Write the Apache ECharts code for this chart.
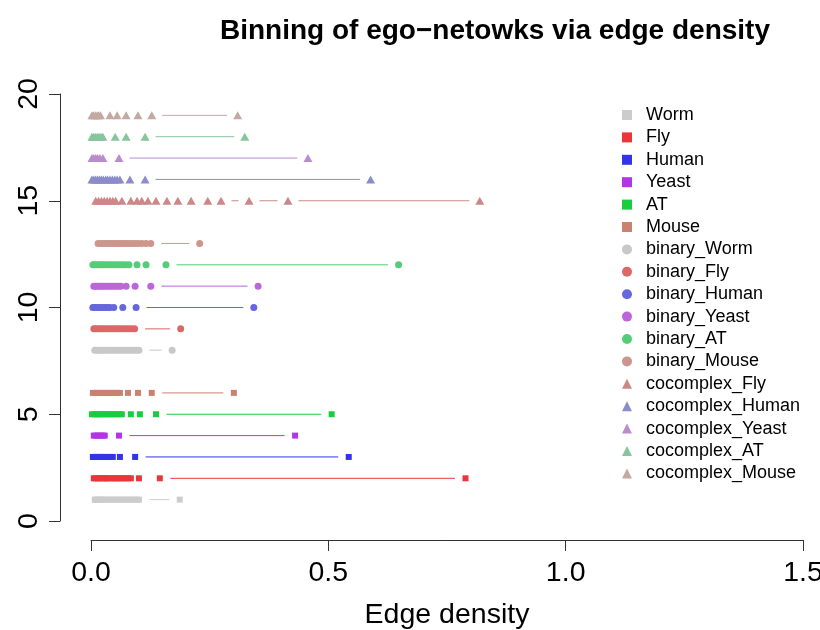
<!DOCTYPE html>
<html><head><meta charset="utf-8">
<script src="https://cdn.jsdelivr.net/npm/echarts@6/dist/echarts.min.js"></script>
<style>html,body{margin:0;padding:0;background:#fff}#c{width:820px;height:630px}</style>
</head><body><div id="c"></div>
<script>
// ---- data ----
const seriesNames = ["Worm","Fly","Human","Yeast","AT","Mouse",
  "binary_Worm","binary_Fly","binary_Human","binary_Yeast","binary_AT","binary_Mouse",
  "cocomplex_Fly","cocomplex_Human","cocomplex_Yeast","cocomplex_AT","cocomplex_Mouse"];
const rowPositions = [1,2,3,4,5,6, 8,9,10,11,12,13, 15,16,17,18,19];

const worm   = [0.008,0.011,0.015,0.019,0.022,0.027,0.031,0.038,0.043,0.049,0.054,0.061,0.066,0.072,0.079,0.084,0.090,0.097,0.101,0.187];
const fly    = [0.006,0.010,0.015,0.019,0.025,0.030,0.034,0.040,0.046,0.051,0.055,0.061,0.067,0.072,0.078,0.084,0.101,0.145,0.789];
const human  = [0.004,0.008,0.012,0.017,0.021,0.026,0.030,0.035,0.041,0.046,0.061,0.093,0.543];
const yeast  = [0.006,0.011,0.015,0.020,0.025,0.029,0.059,0.430];
const at     = [0.002,0.007,0.012,0.016,0.021,0.027,0.032,0.037,0.043,0.048,0.054,0.060,0.065,0.084,0.103,0.137,0.507];
const mouse  = [0.004,0.009,0.013,0.018,0.024,0.029,0.034,0.040,0.045,0.050,0.056,0.061,0.078,0.099,0.128,0.301];

const binaryWorm  = [0.008,0.013,0.017,0.022,0.027,0.032,0.037,0.042,0.048,0.053,0.058,0.064,0.069,0.075,0.080,0.086,0.091,0.096,0.101,0.171];
const binaryFly   = [0.006,0.010,0.014,0.019,0.023,0.028,0.033,0.038,0.043,0.048,0.053,0.058,0.063,0.069,0.075,0.080,0.086,0.092,0.189];
const binaryHuman = [0.004,0.008,0.012,0.016,0.021,0.025,0.030,0.035,0.040,0.048,0.067,0.095,0.343];
const binaryYeast = [0.006,0.010,0.014,0.018,0.023,0.027,0.032,0.037,0.042,0.047,0.053,0.058,0.063,0.074,0.093,0.126,0.352];
const binaryAT    = [0.004,0.008,0.012,0.016,0.020,0.025,0.029,0.034,0.039,0.044,0.050,0.055,0.061,0.067,0.073,0.080,0.097,0.116,0.158,0.648];
const binaryMouse = [0.015,0.021,0.025,0.030,0.034,0.039,0.044,0.049,0.054,0.059,0.064,0.069,0.074,0.080,0.086,0.092,0.099,0.107,0.116,0.126,0.229];

const cocomplexFly   = [0.010,0.016,0.022,0.028,0.034,0.040,0.046,0.052,0.065,0.084,0.097,0.107,0.120,0.137,0.160,0.183,0.211,0.246,0.274,0.333,0.415,0.819];
const cocomplexHuman = [0.002,0.006,0.010,0.014,0.018,0.022,0.026,0.031,0.035,0.040,0.045,0.050,0.055,0.061,0.082,0.114,0.589];
const cocomplexYeast = [0.002,0.006,0.010,0.014,0.019,0.025,0.059,0.457];
const cocomplexAT    = [0.002,0.005,0.009,0.013,0.017,0.021,0.025,0.051,0.074,0.114,0.324];
const cocomplexMouse = [0.002,0.005,0.009,0.013,0.016,0.020,0.040,0.055,0.074,0.099,0.128,0.309];

const xTickLabels = ["0.0","0.5","1.0","1.5"];
const yTickLabels = ["0","5","10","15","20"];

const seriesValues = [worm,fly,human,yeast,at,mouse,
  binaryWorm,binaryFly,binaryHuman,binaryYeast,binaryAT,binaryMouse,
  cocomplexFly,cocomplexHuman,cocomplexYeast,cocomplexAT,cocomplexMouse];

// ---- styles ----
const colors = ["#CCCCCC","#E8363A","#3333EE","#B335E6","#1ACC40","#CC8070",
  "#C8C8C8","#DD6666","#6666DD","#BB66DD","#55CC77","#CC968C",
  "#CC8888","#8C8CCC","#BB8CCC","#88C49C","#C4A8A2"];
const symbols = ["rect","rect","rect","rect","rect","rect",
  "circle","circle","circle","circle","circle","circle",
  "triangle","triangle","triangle","triangle","triangle"];
const symbolSizes = [6,6,6,6,6,6, 7,7,7,7,7,7, [9,8],[9,8],[9,8],[9,8],[9,8]];
const FONT = "'Liberation Sans', Arial, Helvetica, sans-serif";
const GAP = 10.5;
// plot region left padding in data units (R's axis extension): 31px / 475px per unit
const X_PAD = 31 / 475;

const series = [];
seriesValues.forEach(function(vals, i){
  const y = rowPositions[i];
  const sorted = vals.slice().sort(function(a,b){return a-b;});
  const segs = [];
  for (let k = 0; k < sorted.length - 1; k++) segs.push([sorted[k], sorted[k+1], y]);
  const col = colors[i];
  series.push({
    type: 'custom',
    name: '_line_' + i,
    xAxisIndex: 0, yAxisIndex: 0,
    data: segs,
    encode: {x: [0, 1], y: 2},
    silent: true,
    z: 1,
    renderItem: function(params, api){
      const a = api.coord([api.value(0), api.value(2)]);
      const b = api.coord([api.value(1), api.value(2)]);
      if (b[0] - a[0] <= 2 * GAP) return {type: 'group', children: []};
      return {type: 'line', shape: {x1: a[0] + GAP, y1: a[1], x2: b[0] - GAP, y2: b[1]},
        style: {stroke: col, lineWidth: 1}};
    }
  });
  series.push({
    type: 'scatter',
    name: seriesNames[i],
    xAxisIndex: 0, yAxisIndex: 0,
    data: sorted.map(function(v){ return [v, y]; }),
    symbol: symbols[i],
    symbolSize: symbolSizes[i],
    itemStyle: {color: col, opacity: 1},
    z: 2,
    clip: false
  });
});

const axisLineStyle = {show: true, onZero: false, lineStyle: {color: '#333', width: 1}};
const tickStyle = {show: true, length: 11, lineStyle: {color: '#333'}};

const chart = echarts.init(document.getElementById('c'), null, {renderer: 'canvas'});
chart.setOption({
  animation: false,
  backgroundColor: '#ffffff',
  title: {
    text: 'Binning of ego\u2212netowks via edge density',
    left: 215, top: 12,
    textStyle: {fontFamily: FONT, fontSize: 28, fontWeight: 'bold', color: '#000'}
  },
  grid: [
    {left: 60, right: 17, top: 94, bottom: 109, containLabel: false, outerBoundsMode: 'none'},
    {left: 91, right: 17, top: 94, bottom: 90, containLabel: false, outerBoundsMode: 'none'}
  ],
  xAxis: [
    {type: 'value', gridIndex: 0, min: -X_PAD, max: 1.5, show: false, splitLine: {show: false}},
    {type: 'value', gridIndex: 1, min: 0, max: 1.5, interval: 0.5,
      name: 'Edge density', nameLocation: 'middle', nameGap: 61,
      nameTextStyle: {fontFamily: FONT, fontSize: 28.5, color: '#000'},
      axisLine: axisLineStyle, axisTick: tickStyle,
      axisLabel: {fontFamily: FONT, fontSize: 28.5, color: '#000', margin: 19,
        formatter: function(v){ return xTickLabels[Math.round(v / 0.5)]; }},
      splitLine: {show: false}}
  ],
  yAxis: [
    {type: 'value', gridIndex: 0, min: 0, max: 20, interval: 5,
      axisLine: axisLineStyle, axisTick: tickStyle,
      axisLabel: {fontFamily: FONT, fontSize: 28.5, color: '#000', margin: 16, rotate: 90,
        formatter: function(v){ return yTickLabels[Math.round(v / 5)]; }},
      splitLine: {show: false}},
    {type: 'value', gridIndex: 1, min: 0, max: 1, show: false, splitLine: {show: false}}
  ],
  legend: {
    data: seriesNames,
    orient: 'vertical',
    left: 622, top: 105, padding: 0,
    itemWidth: 10, itemHeight: 10, itemGap: 2.4,
    selectedMode: false,
    textStyle: {fontFamily: FONT, fontSize: 18, color: '#000', lineHeight: 20, padding: [0, 0, 0, 9]}
  },
  series: series
});
</script>
</body></html>
